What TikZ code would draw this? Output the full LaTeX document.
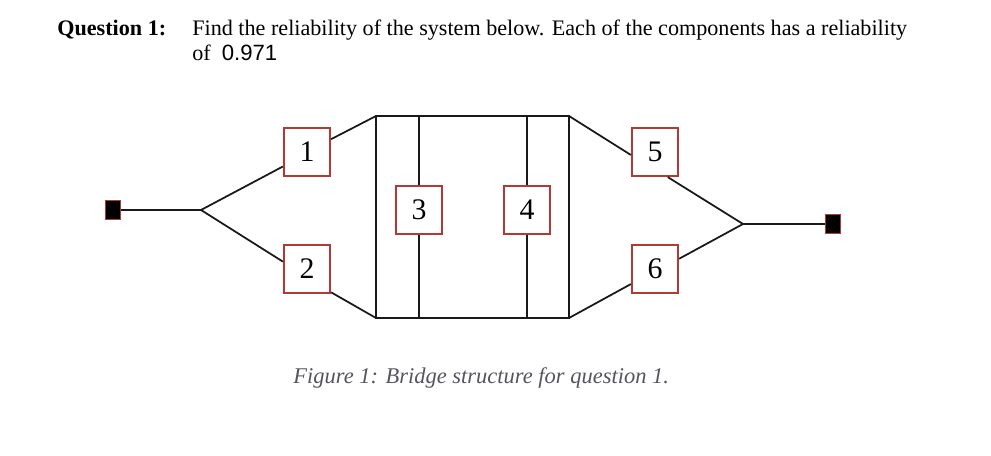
\documentclass[tikz,border=0pt]{standalone}
\usepackage{fontspec}
\setmainfont{Liberation Serif}
\newfontfamily\arialfont{Liberation Sans}
\definecolor{compRed}{HTML}{B23A35}
\definecolor{capGrey}{HTML}{55555F}

\begin{document}
\begin{tikzpicture}[x=0.02cm, y=-0.02cm,
    comp/.style={draw=compRed, line width=1.3pt, fill=white,
                 minimum width=0.92cm, minimum height=0.96cm,
                 inner sep=0pt, font=\fontsize{17}{17}\selectfont},
    term/.style={draw=compRed, line width=0.7pt, fill=black,
                 minimum width=0.29cm, minimum height=0.38cm, inner sep=0pt},
    wire/.style={line width=1pt, black!90},
    txt/.style={font=\fontsize{12.6}{14}\selectfont, anchor=base west, inner sep=0pt},
]
\useasboundingbox (0,0) rectangle (991,456);

% --- Question text ---
\node[txt, font=\fontsize{12.6}{14}\selectfont\bfseries] (qno) at (57, 36) {Question 1:};
\node[txt] (qline1) at (192, 36)
    {Find the reliability of the system below. Each of the components has a reliability};
\node[txt] (qline2) at (192, 61) {of\hspace{0.5em}\arialfont 0.971};

% --- Terminals ---
\node[term] (tin) at (113, 210) {};
\node[term] (tout) at (833, 224) {};
\coordinate (split) at (201, 210);
\coordinate (join) at (743, 224);

% --- Components ---
\node[comp] (c1) at (307, 152) {1};
\node[comp] (c2) at (307, 269) {2};
\node[comp] (c3) at (419, 210) {3};
\node[comp] (c4) at (527, 210) {4};
\node[comp] (c5) at (655, 152) {5};
\node[comp] (c6) at (655, 269) {6};

% bridge frame corners
\coordinate (tl) at (376, 116);
\coordinate (tr) at (569, 116);
\coordinate (bl) at (376, 318);
\coordinate (br) at (569, 318);
\coordinate (t3) at (419, 116);
\coordinate (b3) at (419, 318);
\coordinate (t4) at (527, 116);
\coordinate (b4) at (527, 318);

% --- Wires ---
\draw[wire] (tin) -- (split);
\draw[wire] (split) -- (c1.211);
\draw[wire] (split) -- (c2.163);
\draw[wire] (c1.28) -- (tl);
\draw[wire] (c2.316) -- (bl);
\draw[wire] (tl) rectangle (br);
\draw[wire] (t3) -- (c3.north);
\draw[wire] (c3.south) -- (b3);
\draw[wire] (t4) -- (c4.north);
\draw[wire] (c4.south) -- (b4);
\draw[wire] (tr) -- (c5.187);
\draw[wire] (br) -- (c6.212);
\draw[wire] (c5.297) -- (join);
\draw[wire] (c6.23) -- (join);
\draw[wire] (join) -- (tout);

% caption
\node[txt, font=\fontsize{12.8}{14}\selectfont\itshape, text=capGrey] (cap) at (293, 383)
    {Figure 1: Bridge structure for question 1.};

\end{tikzpicture}
\end{document}
